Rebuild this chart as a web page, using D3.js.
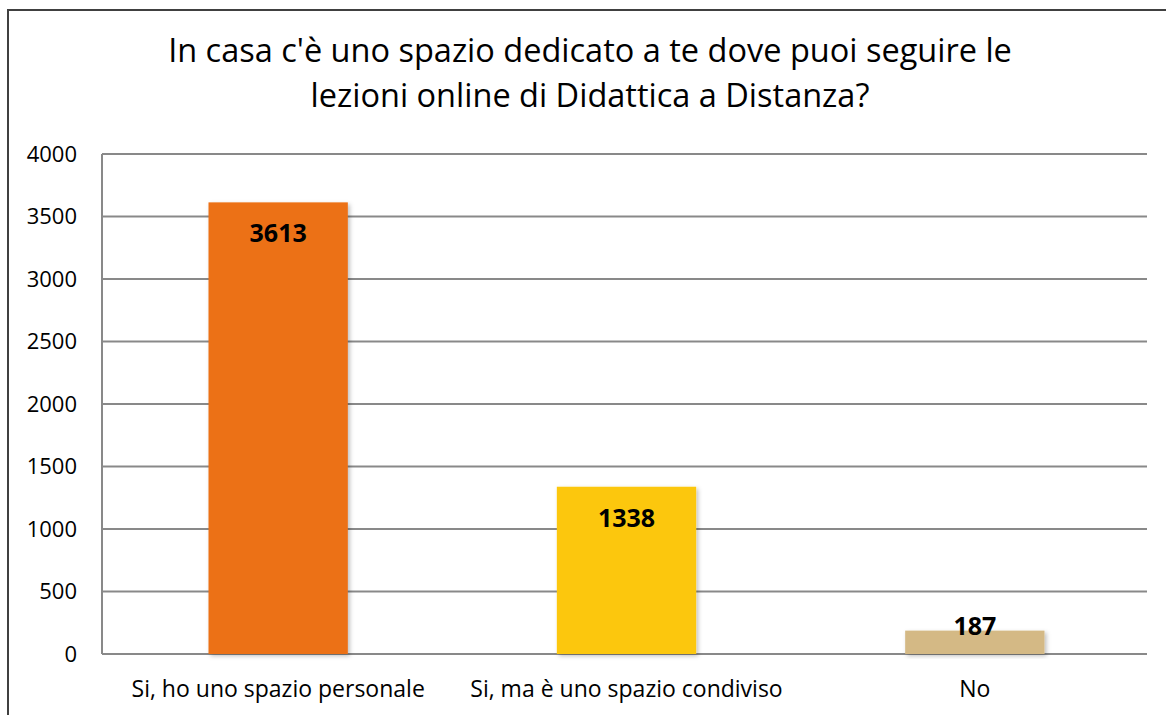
<!DOCTYPE html>
<html>
<head>
<meta charset="utf-8">
<script src="https://cdn.jsdelivr.net/npm/d3@7"></script>
<style>
  body { margin: 0; background: #fff; }
  text { font-family: "Open Sans", Lato, sans-serif; fill: #000; }
</style>
</head>
<body>
<script>
//chart data
var categories = ["Si, ho uno spazio personale", "Si, ma è uno spazio condiviso", "No"];
var values = [3613, 1338, 187];
var colors = ["#EC7118", "#FCC70D", "#D4B985"];
var yTicks = [0, 500, 1000, 1500, 2000, 2500, 3000, 3500, 4000];
var titleLines = ["In casa c'è uno spazio dedicato a te dove puoi seguire le",
                  "lezioni online di Didattica a Distanza?"];

window.onload = drawChart();

function drawChart(){

	var width = 1166,
		height = 715;

	var svg = d3.select("body")
		.append("svg")
		.attr("width", width)
		.attr("height", height);

	//soft shadow for the bars
	var filter = svg.append("defs").append("filter")
		.attr("id", "shadow")
		.attr("x", "-10%").attr("y", "-10%")
		.attr("width", "130%").attr("height", "130%");
	filter.append("feDropShadow")
		.attr("dx", 2).attr("dy", 2)
		.attr("stdDeviation", 2)
		.attr("flood-color", "#000")
		.attr("flood-opacity", 0.25);

	//outer border
	svg.append("rect")
		.attr("x", 8)
		.attr("y", 10)
		.attr("width", 1200)
		.attr("height", 800)
		.attr("fill", "none")
		.attr("stroke", "#404040")
		.attr("stroke-width", 2);

	//plot area
	var left = 102, right = 1147, top = 154, bottom = 654;

	var x = d3.scaleBand()
		.domain(categories)
		.range([left + 2, right + 2])
		.paddingInner(0.6)
		.paddingOuter(0.3);

	var y = d3.scaleLinear()
		.domain([0, 4000])
		.range([bottom, top]);

	//gridlines
	svg.selectAll(".grid")
		.data(yTicks)
		.enter()
		.append("line")
		.attr("class", "grid")
		.attr("x1", left)
		.attr("x2", right)
		.attr("y1", function(d){ return y(d); })
		.attr("y2", function(d){ return y(d); })
		.attr("stroke", "#898989")
		.attr("stroke-width", 2);

	//vertical axis line
	svg.append("line")
		.attr("x1", left).attr("x2", left)
		.attr("y1", top).attr("y2", bottom)
		.attr("stroke", "#898989")
		.attr("stroke-width", 2);

	//y tick labels
	svg.selectAll(".ytick")
		.data(yTicks)
		.enter()
		.append("text")
		.attr("class", "ytick")
		.attr("x", 77)
		.attr("y", function(d){ return y(d); })
		.attr("dy", "0.35em")
		.attr("text-anchor", "end")
		.style("font-size", "22px")
		.text(function(d){ return d; });

	//bars
	svg.selectAll(".bar")
		.data(values)
		.enter()
		.append("rect")
		.attr("class", "bar")
		.attr("x", function(d, i){ return x(categories[i]); })
		.attr("width", x.bandwidth())
		.attr("y", function(d){ return y(d); })
		.attr("height", function(d){ return bottom - y(d); })
		.attr("fill", function(d, i){ return colors[i]; })
		.attr("filter", "url(#shadow)");

	//value labels
	svg.selectAll(".vlabel")
		.data(values)
		.enter()
		.append("text")
		.attr("class", "vlabel")
		.attr("x", function(d, i){ return x(categories[i]) + x.bandwidth() / 2; })
		.attr("y", function(d){
			var h = bottom - y(d);
			return h > 60 ? y(d) + 40 : y(d) + 4;
		})
		.attr("text-anchor", "middle")
		.style("font-size", "25px")
		.style("font-weight", "bold")
		.text(function(d){ return d; });

	//category labels
	svg.selectAll(".xlabel")
		.data(categories)
		.enter()
		.append("text")
		.attr("class", "xlabel")
		.attr("x", function(d){ return x(d) + x.bandwidth() / 2; })
		.attr("y", 697)
		.attr("text-anchor", "middle")
		.style("font-size", "23px")
		.text(function(d){ return d; });

	//title
	svg.selectAll(".title")
		.data(titleLines)
		.enter()
		.append("text")
		.attr("class", "title")
		.attr("x", 590)
		.attr("y", function(d, i){ return 62 + i * 45; })
		.attr("text-anchor", "middle")
		.style("font-size", "32.5px")
		.text(function(d){ return d; });
};
</script>
</body>
</html>
